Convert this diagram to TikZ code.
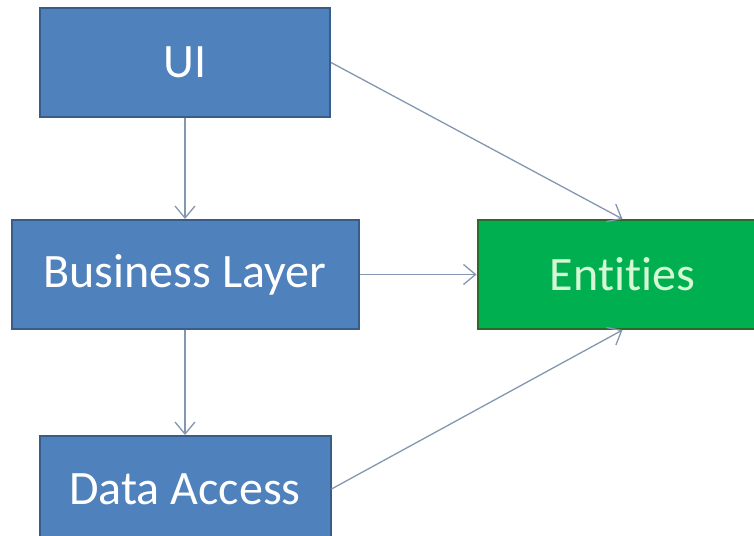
\documentclass[tikz,border=0pt]{standalone}
\usepackage{fontspec}
\setmainfont{Carlito}[Ligatures={NoCommon}]
\usepackage{xcolor}
\definecolor{layer-blue}{HTML}{4F81BD}
\definecolor{layer-edge}{HTML}{385D8A}
\definecolor{entity-green}{HTML}{00B050}
\definecolor{entity-edge}{HTML}{2B6A2B}
\definecolor{entity-text}{HTML}{D4F7D4}
\definecolor{link-grey}{HTML}{8497B0}
\usepackage{tikz}
\usetikzlibrary{positioning}
\usetikzlibrary{arrows.meta}
\tikzset{layer/.style = {draw=layer-edge, line width=2pt, fill=layer-blue, text=white, font=\fontsize{48}{56}\selectfont, minimum height=109pt, inner sep=0pt}}
\tikzset{entity/.style = {draw=entity-edge, line width=2pt, fill=entity-green, text=entity-text, font=\fontsize{48}{56}\selectfont, minimum height=109pt, inner sep=0pt}}
\tikzset{arr/.style = {draw=link-grey, line width=1.3pt, -{Straight Barb[length=12pt,width=20pt]}}}

\begin{document}
\begin{tikzpicture}[node distance = 101pt]
\useasboundingbox (0,0) rectangle (754pt,-535pt);
\clip (0,0) rectangle (754pt,-535pt);

\node[layer, minimum width=290pt] (ui) at (185pt,-62.5pt) {UI};
\node[layer, minimum width=347pt, below=of ui] (business) {Business Layer};
% data box runs off the bottom edge
\node[layer, minimum width=291pt, minimum height=106pt, below=105pt of business] (data) {Data Access};
\node[entity, minimum width=290pt, right=117pt of business] (entities) {Entities};

\draw[arr]  (ui) -- (business);
\draw[arr]  (business) -- (data);
\draw[arr]  (ui.east) -- (entities.north);
\draw[arr]  (business) -- (entities);
\draw[arr]  (data.east) -- (entities.south);

\end{tikzpicture}
\end{document}
